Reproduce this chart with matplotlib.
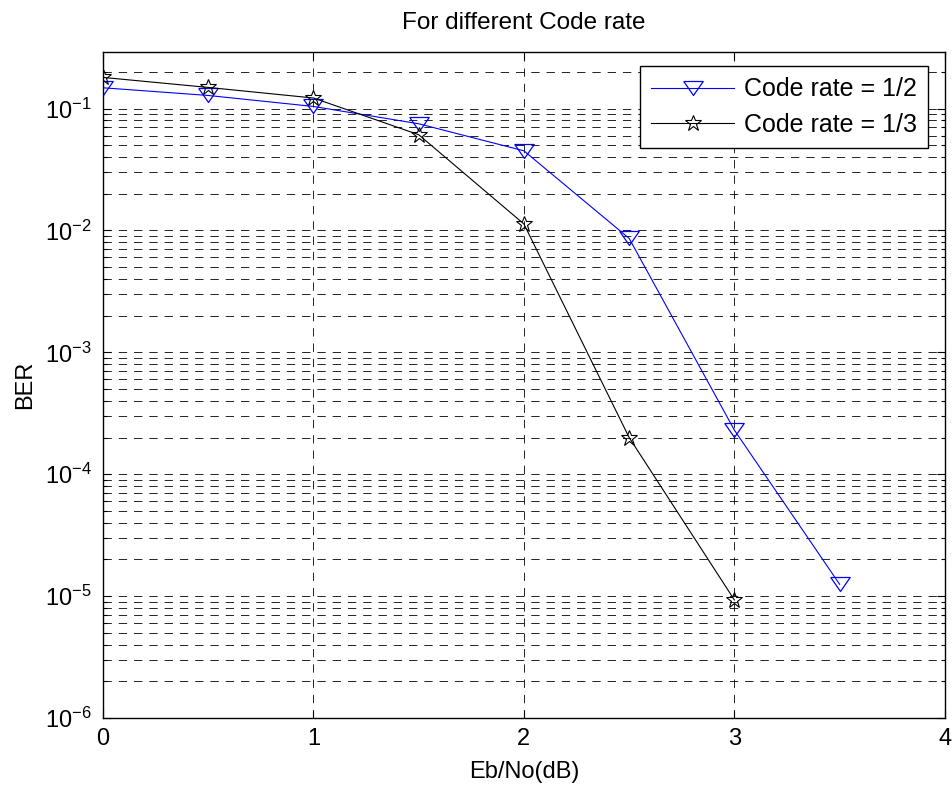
import matplotlib
matplotlib.use("Agg")
import matplotlib.pyplot as plt
from matplotlib.ticker import LogLocator, FixedLocator, NullFormatter

# Eb/No (dB) and BER
ebno = [0, 0.5, 1, 1.5, 2, 2.5, 3, 3.5]
ber_half = [0.148, 0.128, 0.104, 0.075, 0.045, 0.0086, 2.3e-4, 1.25e-5]
ebno_third = [0, 0.5, 1, 1.5, 2, 2.5, 3]
ber_third = [0.18, 0.149, 0.122, 0.061, 0.0113, 2.0e-4, 9.3e-6]

labels = ["Code rate = 1/2", "Code rate = 1/3"]
x_ticks = [0, 1, 2, 3, 4]

plt.rcParams['font.family'] = ['Liberation Sans', 'DejaVu Sans']
plt.rcParams['font.size'] = 17
plt.rcParams['lines.scale_dashes'] = False

fig = plt.figure(figsize=(9.53, 7.88), dpi=100)
ax = fig.add_axes([0.108, 0.0888, 0.8835, 0.845])

# MATLAB style downward triangle (wider than tall)
tri = [(-1, 0.72), (1, 0.72), (0, -0.72), (-1, 0.72)]

ax.semilogy(ebno, ber_half, color='b', lw=0.8, marker=tri, ms=14,
            mfc='none', mec='b', mew=0.9, label=labels[0])
ax.semilogy(ebno_third, ber_third, color='k', lw=0.8, marker='*', ms=12,
            mfc='none', mec='k', mew=0.8, label=labels[1])

ax.set_xlim(0, 4)
ax.set_ylim(1e-6, 0.29)
ax.xaxis.set_major_locator(FixedLocator(x_ticks))
ax.yaxis.set_major_locator(LogLocator(base=10, numticks=20))
ax.yaxis.set_minor_locator(LogLocator(base=10, subs=range(2, 10), numticks=20))
ax.yaxis.set_minor_formatter(NullFormatter())

ax.grid(True, which='major', axis='both', color='k', lw=0.6, linestyle=(0, (6, 5)))
ax.grid(True, which='minor', axis='y', color='k', lw=0.6, linestyle=(0, (6, 5)))

ax.tick_params(which='both', direction='in', top=True, right=True, labelsize=17)
ax.tick_params(which='major', length=6, width=0.8)
ax.tick_params(which='minor', length=3, width=0.8)
ax.tick_params(axis='x', pad=7)
ax.tick_params(axis='y', pad=8)
for s in ax.spines.values():
    s.set_linewidth(1.0)

ax.set_title("For different Code rate", fontsize=17.5, pad=17)
ax.set_xlabel("Eb/No(dB)", fontsize=17, labelpad=8)
ax.set_ylabel("BER", fontsize=17, labelpad=6)

leg = ax.legend(loc='upper right', bbox_to_anchor=(0.98, 0.979), borderaxespad=0,
                fancybox=False, framealpha=1, edgecolor='k', fontsize=18,
                handlelength=3.3, handletextpad=0.4, labelspacing=0.45,
                borderpad=0.45)
leg.get_frame().set_linewidth(1.0)

fig.savefig("out.png", dpi=100)
